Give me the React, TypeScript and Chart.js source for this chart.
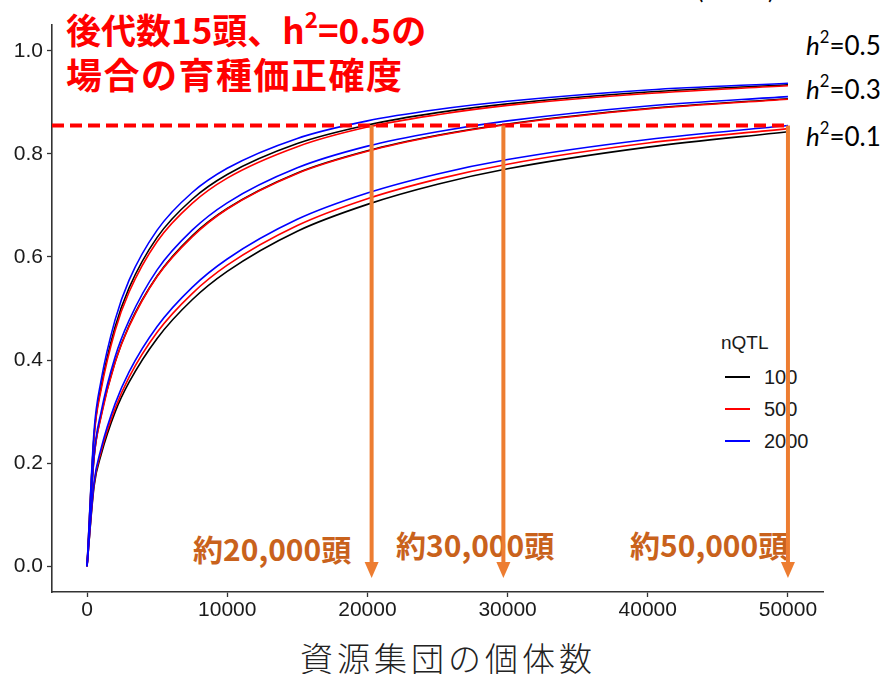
import React, { useEffect, useRef } from 'react';
import { Chart, registerables } from 'chart.js';

Chart.register(...registerables);

// 資源集団の個体数
const populationSizes = [0, 500, 1000, 2000, 3000, 5000, 7500, 10000, 15000, 20000, 25000, 30000, 40000, 50000];

// h² = 0.5
const h05_q100 = [0, 0.253, 0.347, 0.464, 0.54, 0.638, 0.712, 0.76, 0.82, 0.856, 0.88, 0.897, 0.92, 0.934];
const h05_q500 = [0, 0.25, 0.342, 0.457, 0.532, 0.63, 0.704, 0.753, 0.814, 0.852, 0.876, 0.894, 0.917, 0.932];
const h05_q2000 = [0, 0.262, 0.36, 0.478, 0.555, 0.652, 0.725, 0.772, 0.83, 0.864, 0.886, 0.902, 0.924, 0.937];
// h² = 0.3
const h03_q100 = [0, 0.211, 0.292, 0.396, 0.467, 0.563, 0.641, 0.694, 0.763, 0.806, 0.836, 0.858, 0.888, 0.907];
const h03_q500 = [0, 0.21, 0.29, 0.395, 0.465, 0.562, 0.639, 0.693, 0.762, 0.805, 0.835, 0.857, 0.887, 0.906];
const h03_q2000 = [0, 0.216, 0.299, 0.406, 0.477, 0.575, 0.652, 0.705, 0.773, 0.815, 0.843, 0.864, 0.893, 0.911];
// h² = 0.1
const h01_q100 = [0, 0.155, 0.216, 0.299, 0.357, 0.442, 0.517, 0.572, 0.65, 0.702, 0.741, 0.771, 0.813, 0.843];
const h01_q500 = [0, 0.159, 0.222, 0.306, 0.367, 0.454, 0.529, 0.584, 0.661, 0.713, 0.751, 0.78, 0.821, 0.849];
const h01_q2000 = [0, 0.163, 0.228, 0.315, 0.377, 0.465, 0.541, 0.596, 0.673, 0.724, 0.761, 0.789, 0.828, 0.855];

const nqtlLevels = ['100', '500', '2000'];
const nqtlColors = ['#000000', '#ff0000', '#0000ff'];
const heritabilityLabels = ['0.5', '0.3', '0.1'];

const targetAccuracy = 0.855;
const arrowPopulations = [20300, 29700, 50000];
const arrowTipValue = -0.023;
const arrowLabels = ['約20,000頭', '約30,000頭', '約50,000頭'];

const xTickValues = [0, 10000, 20000, 30000, 40000, 50000];
const yTickValues = [0, 0.2, 0.4, 0.6, 0.8, 1.0];

const seriesByNqtl = [
  [h05_q100, h03_q100, h01_q100],
  [h05_q500, h03_q500, h01_q500],
  [h05_q2000, h03_q2000, h01_q2000],
];

const ARROW_COLOR = '#ED7D31';
const LABEL_ORANGE = '#C9621C';
const TICK_FONT = '"Liberation Sans", Arial, sans-serif';
const JP_FONT = '"Noto Sans CJK JP", "Noto Sans", sans-serif';

const arrowPlugin = {
  id: 'populationArrows',
  afterDatasetsDraw(chart: any) {
    const { ctx } = chart;
    const xs = chart.scales.x;
    const ys = chart.scales.y;
    const yTop = ys.getPixelForValue(targetAccuracy);
    const yTip = ys.getPixelForValue(arrowTipValue);
    ctx.save();
    ctx.strokeStyle = ARROW_COLOR;
    ctx.fillStyle = ARROW_COLOR;
    ctx.lineWidth = 4;
    arrowPopulations.forEach((v) => {
      const px = xs.getPixelForValue(v);
      ctx.beginPath();
      ctx.moveTo(px, yTop);
      ctx.lineTo(px, yTip - 12);
      ctx.stroke();
      ctx.beginPath();
      ctx.moveTo(px - 7, yTip - 16);
      ctx.lineTo(px + 7, yTip - 16);
      ctx.lineTo(px, yTip);
      ctx.closePath();
      ctx.fill();
    });
    ctx.restore();
  },
};

export default function App() {
  const canvasRef = useRef<HTMLCanvasElement | null>(null);

  useEffect(() => {
    if (!canvasRef.current) return;
    const datasets: any[] = [];
    datasets.push({
      label: 'target',
      data: [
        { x: -2500, y: targetAccuracy },
        { x: 50000, y: targetAccuracy },
      ],
      borderColor: '#ff0000',
      borderWidth: 4,
      borderDash: [12, 6],
      pointRadius: 0,
      order: 0,
    });
    seriesByNqtl.forEach((group, qi) => {
      group.forEach((values, hi) => {
        datasets.push({
          label: `nQTL ${nqtlLevels[qi]} h2=${heritabilityLabels[hi]}`,
          data: populationSizes.map((x, i) => ({ x, y: values[i] })),
          borderColor: nqtlColors[qi],
          borderWidth: 1.6,
          pointRadius: 0,
          cubicInterpolationMode: 'monotone',
          order: 3 - qi,
        });
      });
    });

    const chart = new Chart(canvasRef.current, {
      type: 'line',
      data: { datasets },
      plugins: [arrowPlugin],
      options: {
        animation: false,
        responsive: false,
        devicePixelRatio: 1,
        layout: { padding: { top: 25, right: 70, left: 0, bottom: 0 } },
        plugins: { legend: { display: false }, tooltip: { enabled: false } },
        scales: {
          x: {
            type: 'linear',
            min: -2500,
            max: 52500,
            afterBuildTicks: (s: any) => {
              s.ticks = xTickValues.map((v) => ({ value: v }));
            },
            afterFit: (s: any) => {
              s.height = 82;
            },
            grid: { drawOnChartArea: false, drawTicks: true, tickLength: 5, tickColor: '#333', tickWidth: 1.3 },
            border: { display: true, color: '#333', width: 1.6 },
            ticks: {
              color: '#1a1a1a',
              font: { family: TICK_FONT, size: 21 },
              padding: 1,
              maxRotation: 0,
              autoSkip: false,
              callback: (v: any) => String(v),
            },
          },
          y: {
            type: 'linear',
            min: -0.05,
            max: 1.05,
            afterBuildTicks: (s: any) => {
              s.ticks = yTickValues.map((v) => ({ value: v }));
            },
            afterFit: (s: any) => {
              s.width = 52;
            },
            grid: { drawOnChartArea: false, drawTicks: true, tickLength: 5, tickColor: '#333', tickWidth: 1.3 },
            border: { display: true, color: '#333', width: 1.6 },
            ticks: {
              color: '#1a1a1a',
              font: { family: TICK_FONT, size: 21 },
              padding: 4,
              autoSkip: false,
              callback: (v: any) => Number(v).toFixed(1),
            },
          },
        },
      },
    } as any);
    return () => chart.destroy();
  }, []);

  const abs = (style: React.CSSProperties): React.CSSProperties => ({ position: 'absolute', whiteSpace: 'nowrap', ...style });
  const sup: React.CSSProperties = { fontSize: '0.64em', position: 'relative', top: '-0.72em', lineHeight: 0 };

  return (
    <div style={{ position: 'fixed', left: 0, top: 0, width: 893, height: 674, background: '#fff', overflow: 'hidden' }}>
      {/* title */}
      <div
        style={abs({
          left: 66,
          top: 6,
          color: '#ff0000',
          fontFamily: JP_FONT,
          fontWeight: 700,
          fontSize: 35,
          lineHeight: '45px',
        })}
      >
        <div>
          後代数15頭、h<span style={sup}>2</span>=0.5の
        </div>
        <div style={{ fontSize: 36, letterSpacing: 1.5 }}>場合の育種価正確度</div>
      </div>

      <div style={abs({ left: 697, top: -22, fontFamily: 'Lato, sans-serif', fontSize: 24, lineHeight: '24px' })}>(</div>
      <div style={abs({ left: 768, top: -22, fontFamily: 'Lato, sans-serif', fontSize: 24, lineHeight: '24px' })}>)</div>

      {/* heritability labels */}
      {heritabilityLabels.map((h, i) => (
        <div
          key={h}
          style={abs({
            left: 806,
            top: [46, 90, 137][i] - 17,
            fontFamily: 'Lato, sans-serif',
            fontSize: 26,
            lineHeight: '32px',
            color: '#000',
          })}
        >
          <i>h</i>
          <span style={sup}>2</span>={h}
        </div>
      ))}

      {/* legend */}
      <div style={abs({ left: 721, top: 343 - 12, fontFamily: TICK_FONT, fontSize: 19, lineHeight: '24px', color: '#1a1a1a' })}>nQTL</div>
      {nqtlLevels.map((q, i) => (
        <React.Fragment key={q}>
          <div style={abs({ left: 725, top: [377, 409, 441][i] - 1, width: 25, height: 1.5, background: nqtlColors[i] })} />
          <div
            style={abs({
              left: 764,
              top: [377, 409, 441][i] - 12,
              fontFamily: TICK_FONT,
              fontSize: 20,
              lineHeight: '24px',
              color: '#1a1a1a',
            })}
          >
            {q}
          </div>
        </React.Fragment>
      ))}

      {/* arrow labels */}
      {arrowLabels.map((t, i) => (
        <div
          key={t}
          style={abs({
            left: [193, 396, 630][i],
            top: [548, 544, 544][i] - 19,
            fontFamily: JP_FONT,
            fontWeight: 700,
            fontSize: 30,
            lineHeight: '38px',
            color: LABEL_ORANGE,
          })}
        >
          {t}
        </div>
      ))}

      {/* x axis title */}
      <div
        style={abs({
          left: 248,
          width: 400,
          textAlign: 'center',
          top: 657 - 21,
          fontFamily: JP_FONT,
          fontWeight: 300,
          fontSize: 33,
          lineHeight: '42px',
          letterSpacing: 4,
          color: '#222',
        })}
      >
        資源集団の個体数
      </div>

      <canvas ref={canvasRef} width={893} height={674} style={{ position: 'absolute', left: 0, top: 0, width: 893, height: 674 }} />
    </div>
  );
}
